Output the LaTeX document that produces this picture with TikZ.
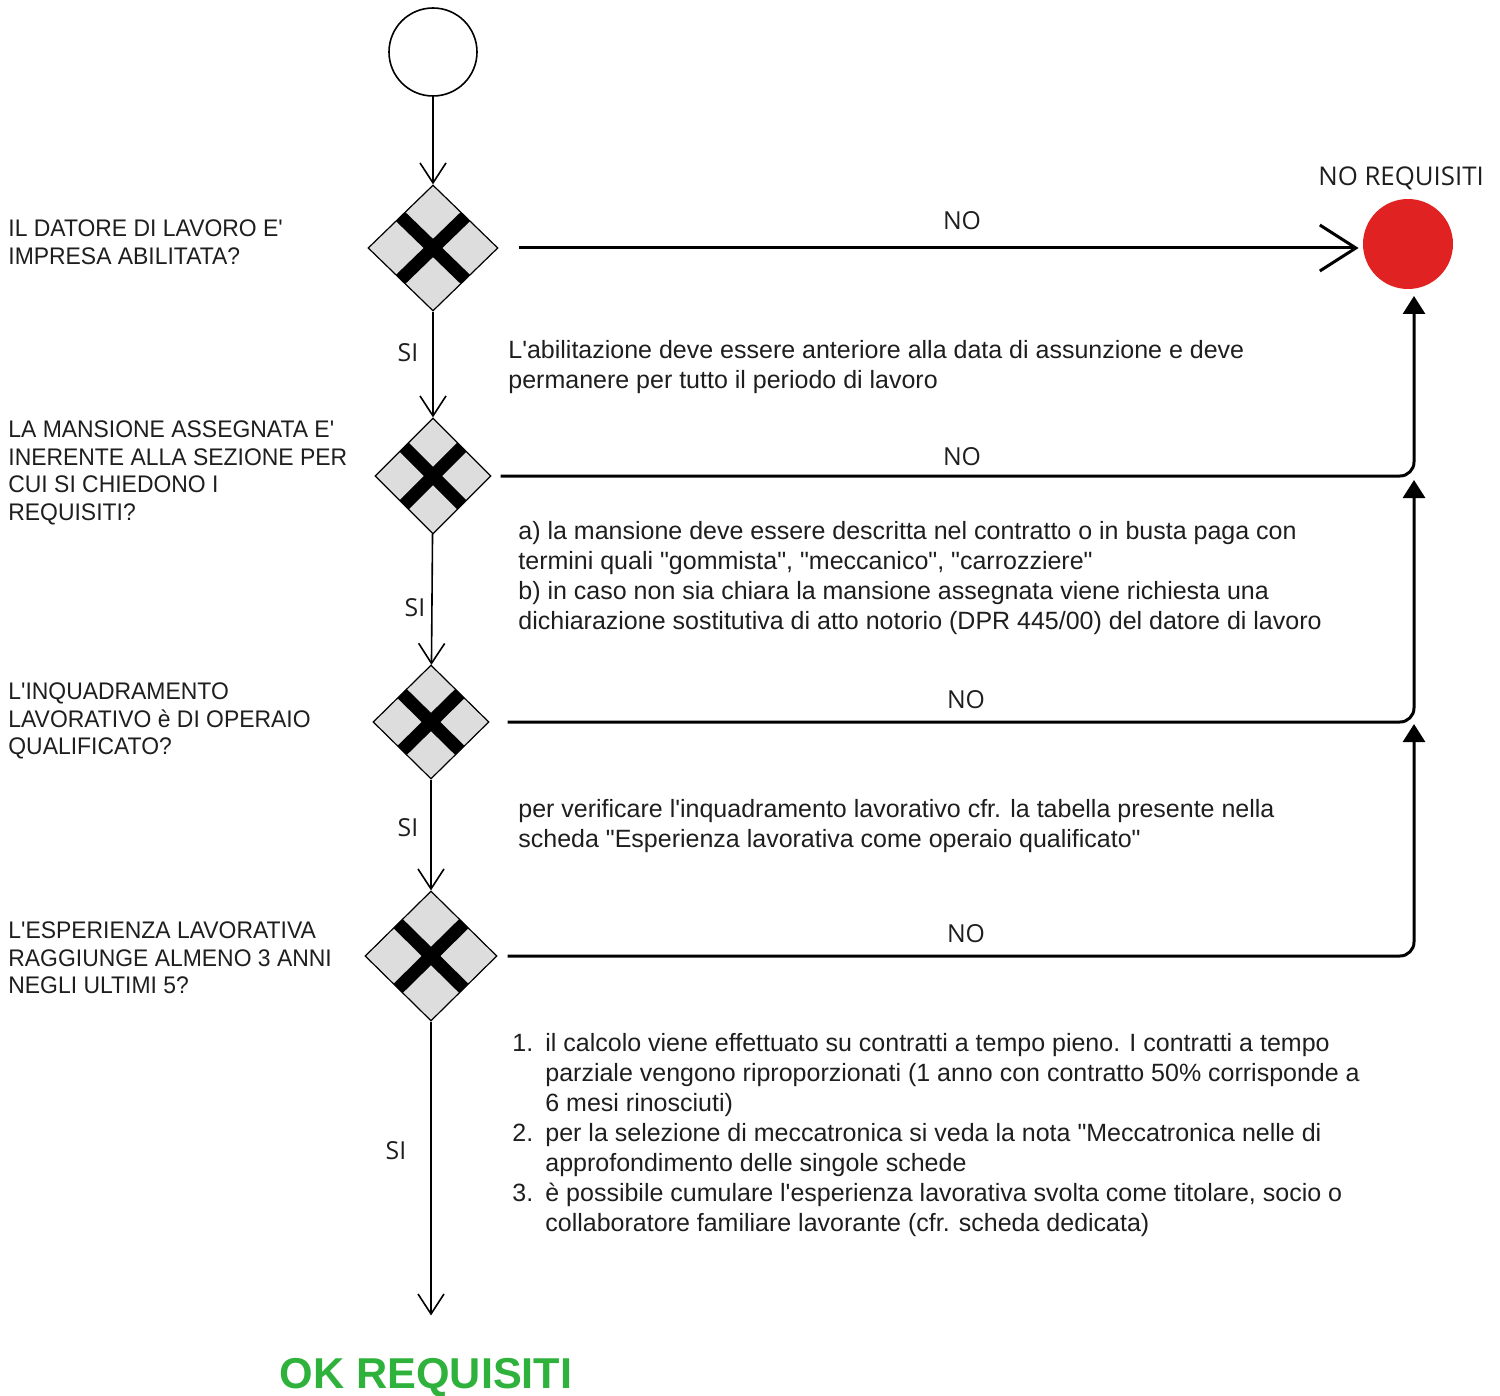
\documentclass[tikz,border=0pt]{standalone}
\usepackage{fontspec}
\setmainfont{Liberation Sans}[Ligatures=TeXOff]
\newfontfamily\labelfont{Open Sans}[Ligatures=TeXOff]
\newfontfamily\questionfont{Liberation Sans}[Ligatures=TeXOff, FakeStretch=0.955]
\usetikzlibrary{arrows.meta,calc,shapes.geometric}
\definecolor{gwgrey}{RGB}{221,221,221}
\definecolor{failred}{RGB}{224,34,34}
\definecolor{okgreen}{RGB}{46,178,60}
\definecolor{txt}{RGB}{30,30,30}
\def\crossfrac{0.21}

\tikzset{
	gateway/.style={diamond, draw, line width=0.6pt, fill=gwgrey, inner sep=0pt,
		path picture={
			\draw[line width=6.5pt] ($(path picture bounding box.north west)!\crossfrac!(path picture bounding box.south east)$) -- ($(path picture bounding box.north west)!1-\crossfrac!(path picture bounding box.south east)$);
			\draw[line width=6.5pt] ($(path picture bounding box.north east)!\crossfrac!(path picture bounding box.south west)$) -- ($(path picture bounding box.north east)!1-\crossfrac!(path picture bounding box.south west)$);
		}},
	question/.style={anchor=west, align=left, inner sep=0pt, text=txt, font=\questionfont\fontsize{12}{13.75}\selectfont},
	note/.style={anchor=west, align=left, inner sep=0pt, text=txt, font=\fontsize{12.5}{15}\selectfont},
	tag/.style={inner sep=0pt, text=txt, font=\labelfont\fontsize{12.4}{14}\selectfont},
	flow/.style={line width=0.8pt, -{Straight Barb[length=10pt,width=13pt]}},
	noline/.style={line width=1.5pt, rounded corners=7pt, -{Triangle[length=9pt,width=11pt]}},
}

\begin{document}
\begin{tikzpicture}[x=0.5pt, y=-0.5pt]
	\useasboundingbox (0,0) rectangle (1500,1396);
	%%%%% START %%%%%

	\node[circle, draw, line width=0.8pt, minimum size=44pt, inner sep=0pt] (start) at (433,52) {};

	\node[gateway, minimum width=65pt, minimum height=63pt] (gw1) at (433,248) {};
	\node[gateway, minimum width=58pt, minimum height=58pt] (gw2) at (433,476) {};
	\node[gateway, minimum width=58pt, minimum height=57pt] (gw3) at (431,722) {};
	\node[gateway, minimum width=66pt, minimum height=65pt] (gw4) at (431,956) {};

	\node[circle, fill=failred, minimum size=45pt, inner sep=0pt] (fail) at (1408,244) {};
	\node[tag, font=\labelfont\fontsize{12.9}{14}\selectfont] (failtag) at (1401,178) {NO REQUISITI};
	\node[anchor=base, inner sep=0pt, text=okgreen, font=\fontsize{21.6}{26}\selectfont\bfseries] (ok) at (426,1388) {OK REQUISITI};

	% questions on the left
	\node[question] (q1) at (8,242) {IL DATORE DI LAVORO E'\\IMPRESA ABILITATA?};
	\node[question] (q2) at (8,473) {LA MANSIONE ASSEGNATA E'\\INERENTE ALLA SEZIONE PER\\CUI SI CHIEDONO I\\REQUISITI?};
	\node[question] (q3) at (8,721) {L'INQUADRAMENTO\\LAVORATIVO è DI OPERAIO\\QUALIFICATO?};
	\node[question] (q4) at (8,958) {L'ESPERIENZA LAVORATIVA\\RAGGIUNGE ALMENO 3 ANNI\\NEGLI ULTIMI 5?};

	% notes
	\node[note] (n1) at (508,367) {L'abilitazione deve essere anteriore alla data di assunzione e deve\\permanere per tutto il periodo di lavoro};
	\node[note] (n2) at (518,578) {a) la mansione deve essere descritta nel contratto o in busta paga con\\termini quali "gommista", "meccanico", "carrozziere"\\b) in caso non sia chiara la mansione assegnata viene richiesta una\\dichiarazione sostitutiva di atto notorio (DPR 445/00) del datore di lavoro};
	\node[note] (n3) at (518,826) {per verificare l'inquadramento lavorativo cfr. la tabella presente nella\\scheda "Esperienza lavorativa come operaio qualificato"};
	\node[note] (n4) at (512,1135) {\makebox[16.5pt][l]{1.}il calcolo viene effettuato su contratti a tempo pieno. I contratti a tempo\\
		\hspace*{16.5pt}parziale vengono riproporzionati (1 anno con contratto 50\% corrisponde a\\
		\hspace*{16.5pt}6 mesi rinosciuti)\\
		\makebox[16.5pt][l]{2.}per la selezione di meccatronica si veda la nota "Meccatronica nelle di\\
		\hspace*{16.5pt}approfondimento delle singole schede\\
		\makebox[16.5pt][l]{3.}è possibile cumulare l'esperienza lavorativa svolta come titolare, socio o\\
		\hspace*{16.5pt}collaboratore familiare lavorante (cfr. scheda dedicata)};

	% SI path
	\draw[flow] (start) -- (gw1);
	\draw[flow] (gw1) -- (gw2);
	\draw[flow] (gw2) -- (gw3);
	\draw[flow] (gw3) -- (gw4);
	\draw[flow, shorten >=21pt] (gw4.south) -- (gw4.south |- ok.north);
	\node[tag] (si1) at (408,353) {SI};
	\node[tag] (si2) at (415,608) {SI};
	\node[tag] (si3) at (408,828) {SI};
	\node[tag] (si4) at (396,1151) {SI};

	% NO paths
	\coordinate (m1) at (1414,296);
	\coordinate (m2) at (1414,480);
	\coordinate (m3) at (1414,724);
	\draw[line width=1.5pt, shorten <=10pt, shorten >=2pt, -{Straight Barb[length=18pt,width=23pt]}] (gw1.east) -- (gw1.east -| fail.west);
	\draw[noline, shorten <=4.5pt] (gw2.east) -- (gw2.east -| m1) -- (m1);
	\draw[noline, shorten <=9pt] (gw3.east) -- (gw3.east -| m2) -- (m2);
	\draw[noline, shorten <=5pt] (gw4.east) -- (gw4.east -| m3) -- (m3);
	\node[tag] (no1) at (962,221) {NO};
	\node[tag] (no2) at (962,457) {NO};
	\node[tag] (no3) at (966,700) {NO};
	\node[tag] (no4) at (966,934) {NO};

	%%%%% END %%%%%
\end{tikzpicture}
\end{document}
